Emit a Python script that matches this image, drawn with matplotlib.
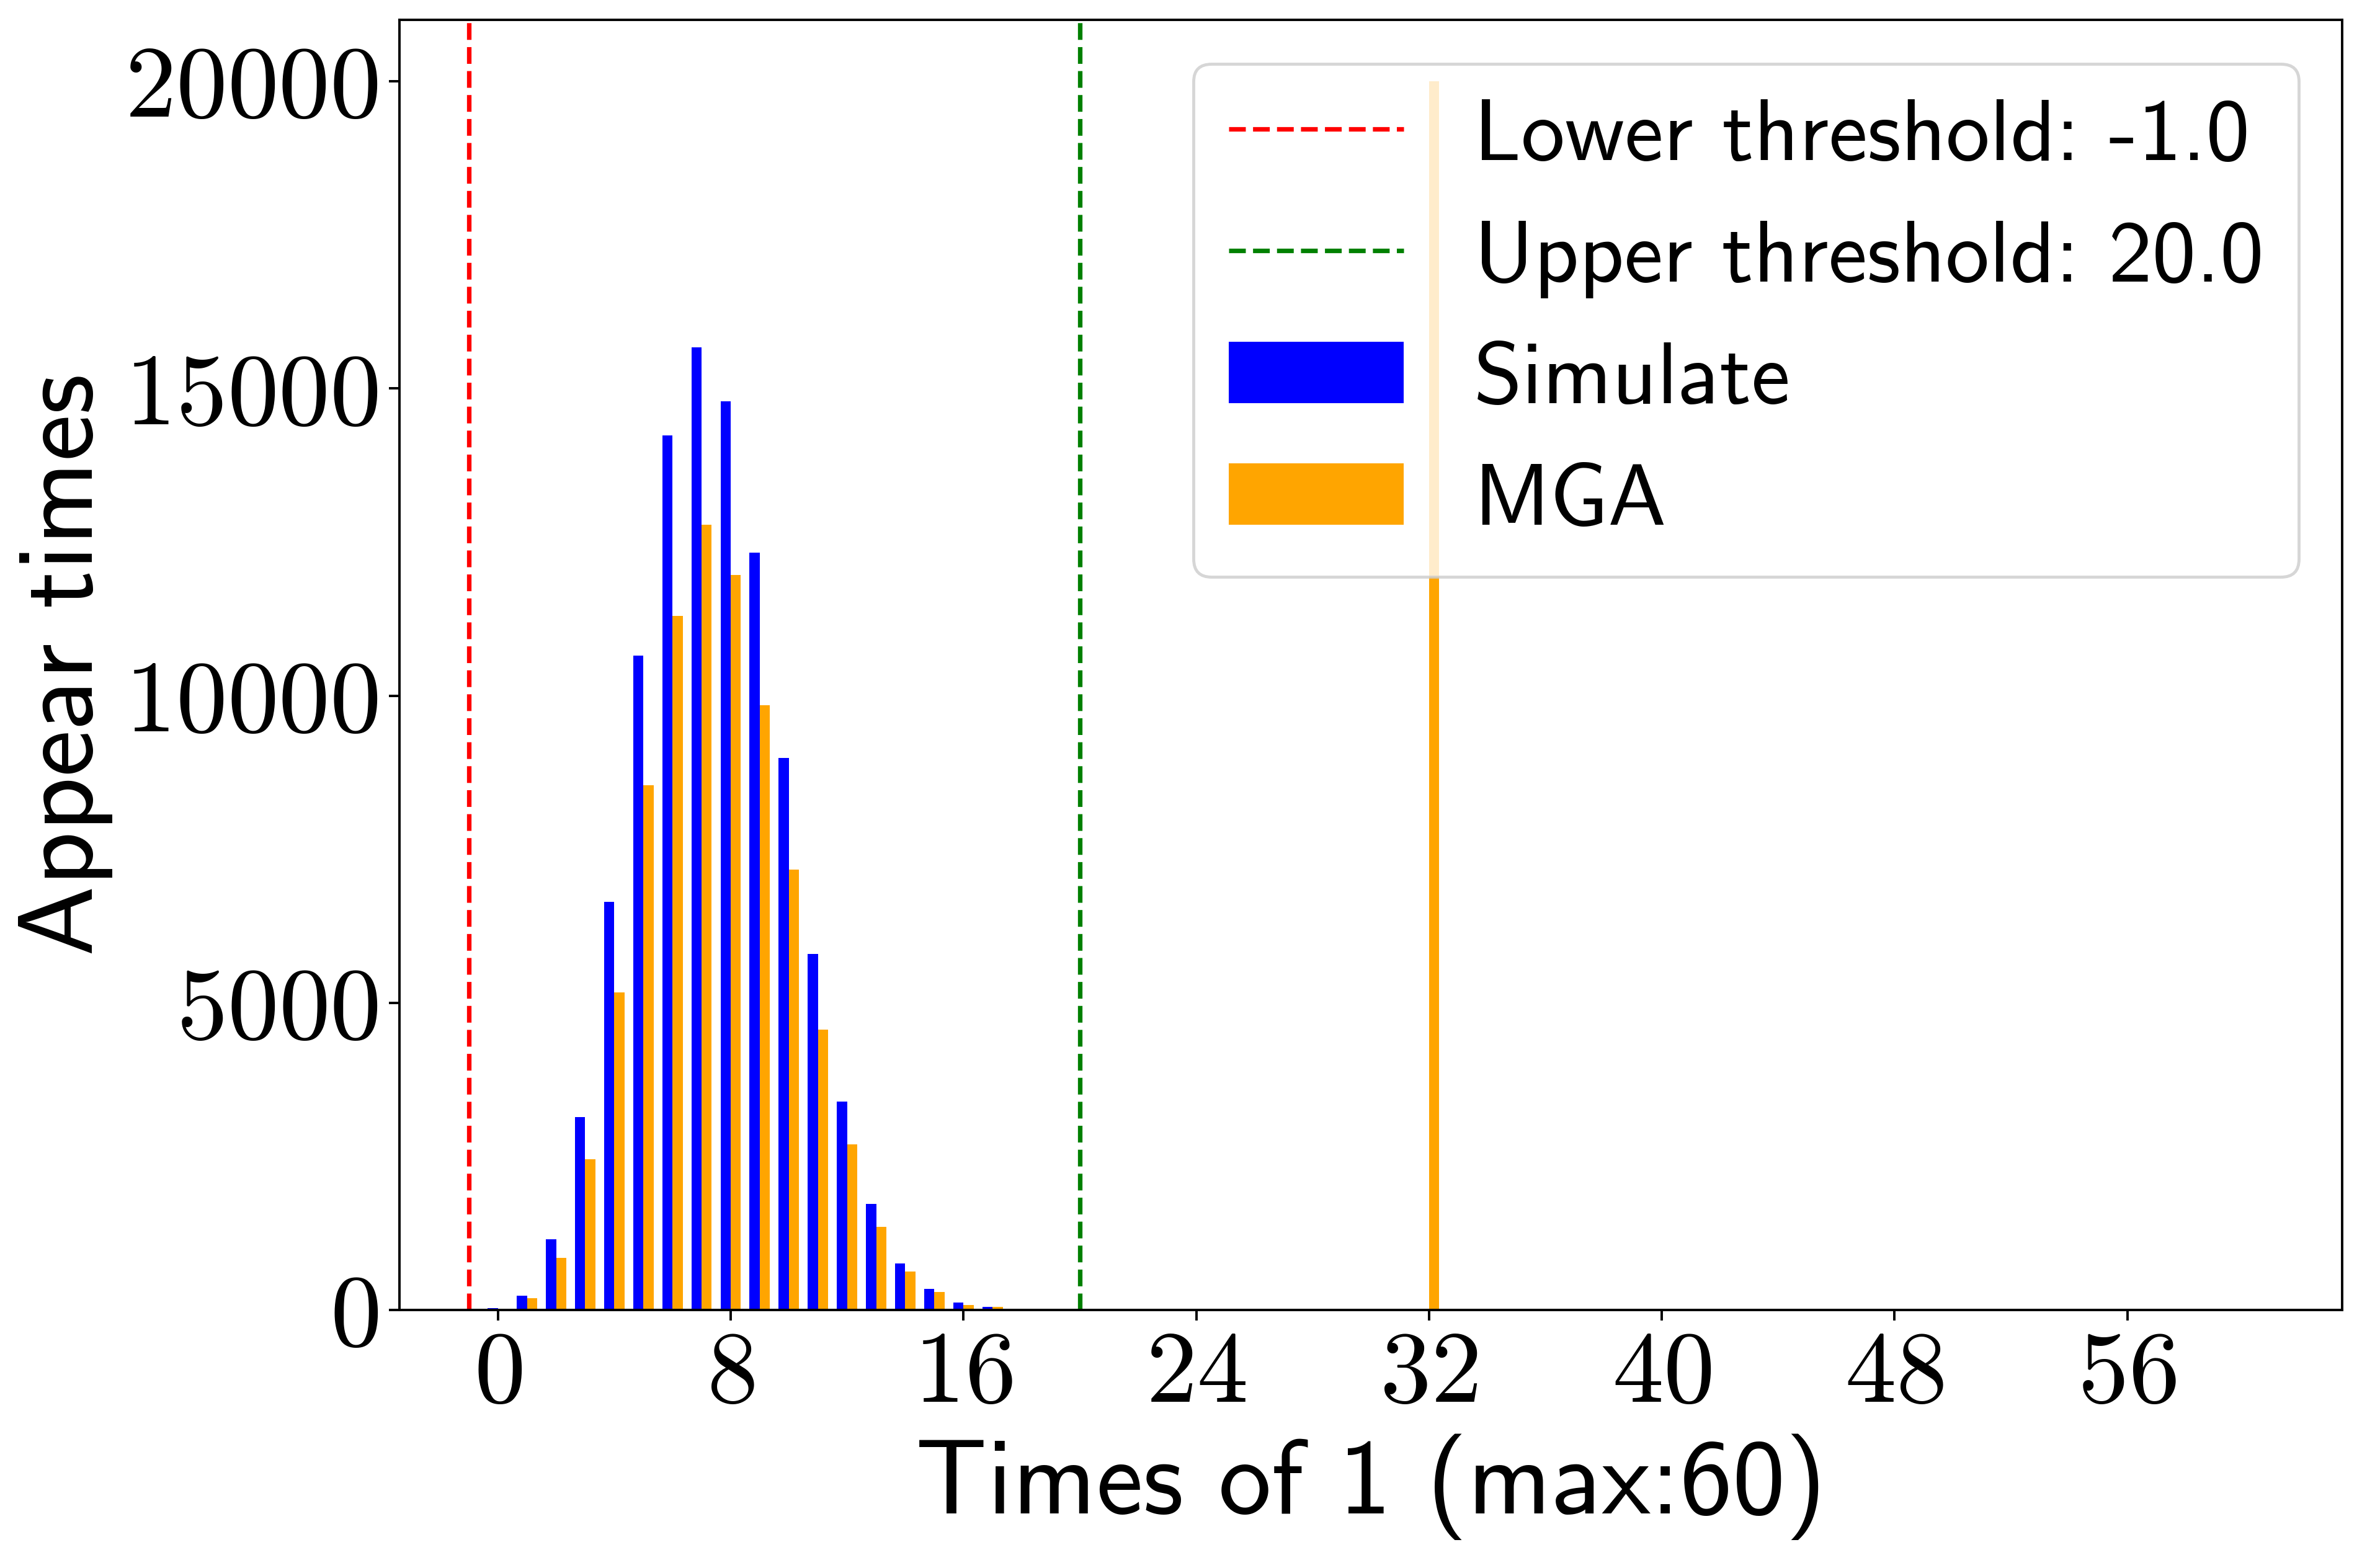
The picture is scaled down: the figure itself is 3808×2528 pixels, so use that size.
import matplotlib
matplotlib.use('Agg')
import matplotlib.pyplot as plt
import numpy as np

# counts per number of 1s (0..18)
ones_count = list(range(19))
simulate = [25, 230, 1150, 3140, 6640, 10650, 14240, 15670, 14790, 12330,
            8990, 5790, 3390, 1725, 757, 339, 117, 46, 12]
mga = [5, 190, 845, 2450, 5170, 8540, 11300, 12780, 11960, 9840,
       7170, 4560, 2695, 1352, 623, 289, 84, 54, 8]
# MGA spike far to the right
mga_spike_x = [32]
mga_spike_y = [20000]

lower_threshold = -1.0
upper_threshold = 20.0
max_ones = 60
xticks = [0, 8, 16, 24, 32, 40, 48, 56]

plt.rcParams['font.family'] = 'serif'
plt.rcParams['font.serif'] = ['cmr10']
plt.rcParams['mathtext.fontset'] = 'cm'
plt.rcParams['axes.formatter.use_mathtext'] = True

fig = plt.figure(figsize=(3808 / 350, 2528 / 350), dpi=350)
ax = fig.add_subplot(111)
fig.subplots_adjust(left=0.1691, right=0.9916, bottom=0.1646, top=0.9873)

w = 0.35
ax.axvline(lower_threshold, color='red', linestyle='--',
           label='Lower threshold: ' + str(lower_threshold))
ax.axvline(upper_threshold, color='green', linestyle='--',
           label='Upper threshold: ' + str(upper_threshold))

x = np.array(ones_count)
ax.bar(x - w / 2, simulate, width=w, color='blue', label='Simulate')
mga_x = np.concatenate([x, mga_spike_x])
mga_y = list(mga) + mga_spike_y
ax.bar(mga_x + w / 2, mga_y, width=w, color='orange', label='MGA')

ax.set_xlim(-w - 0.05 * (max_ones + 2 * w), max_ones + w + 0.05 * (max_ones + 2 * w))
ax.set_ylim(0, 21000)
ax.set_xticks(xticks)
ax.tick_params(labelsize=34)

ax.set_xlabel('Times of 1 (max:%d)' % max_ones, fontsize=35, family='cmss10')
ax.set_ylabel('Appear times', fontsize=35, family='cmss10')

ax.legend(loc='upper right', prop={'family': 'cmss10', 'size': 29})

fig.savefig('out.png', dpi=350)
